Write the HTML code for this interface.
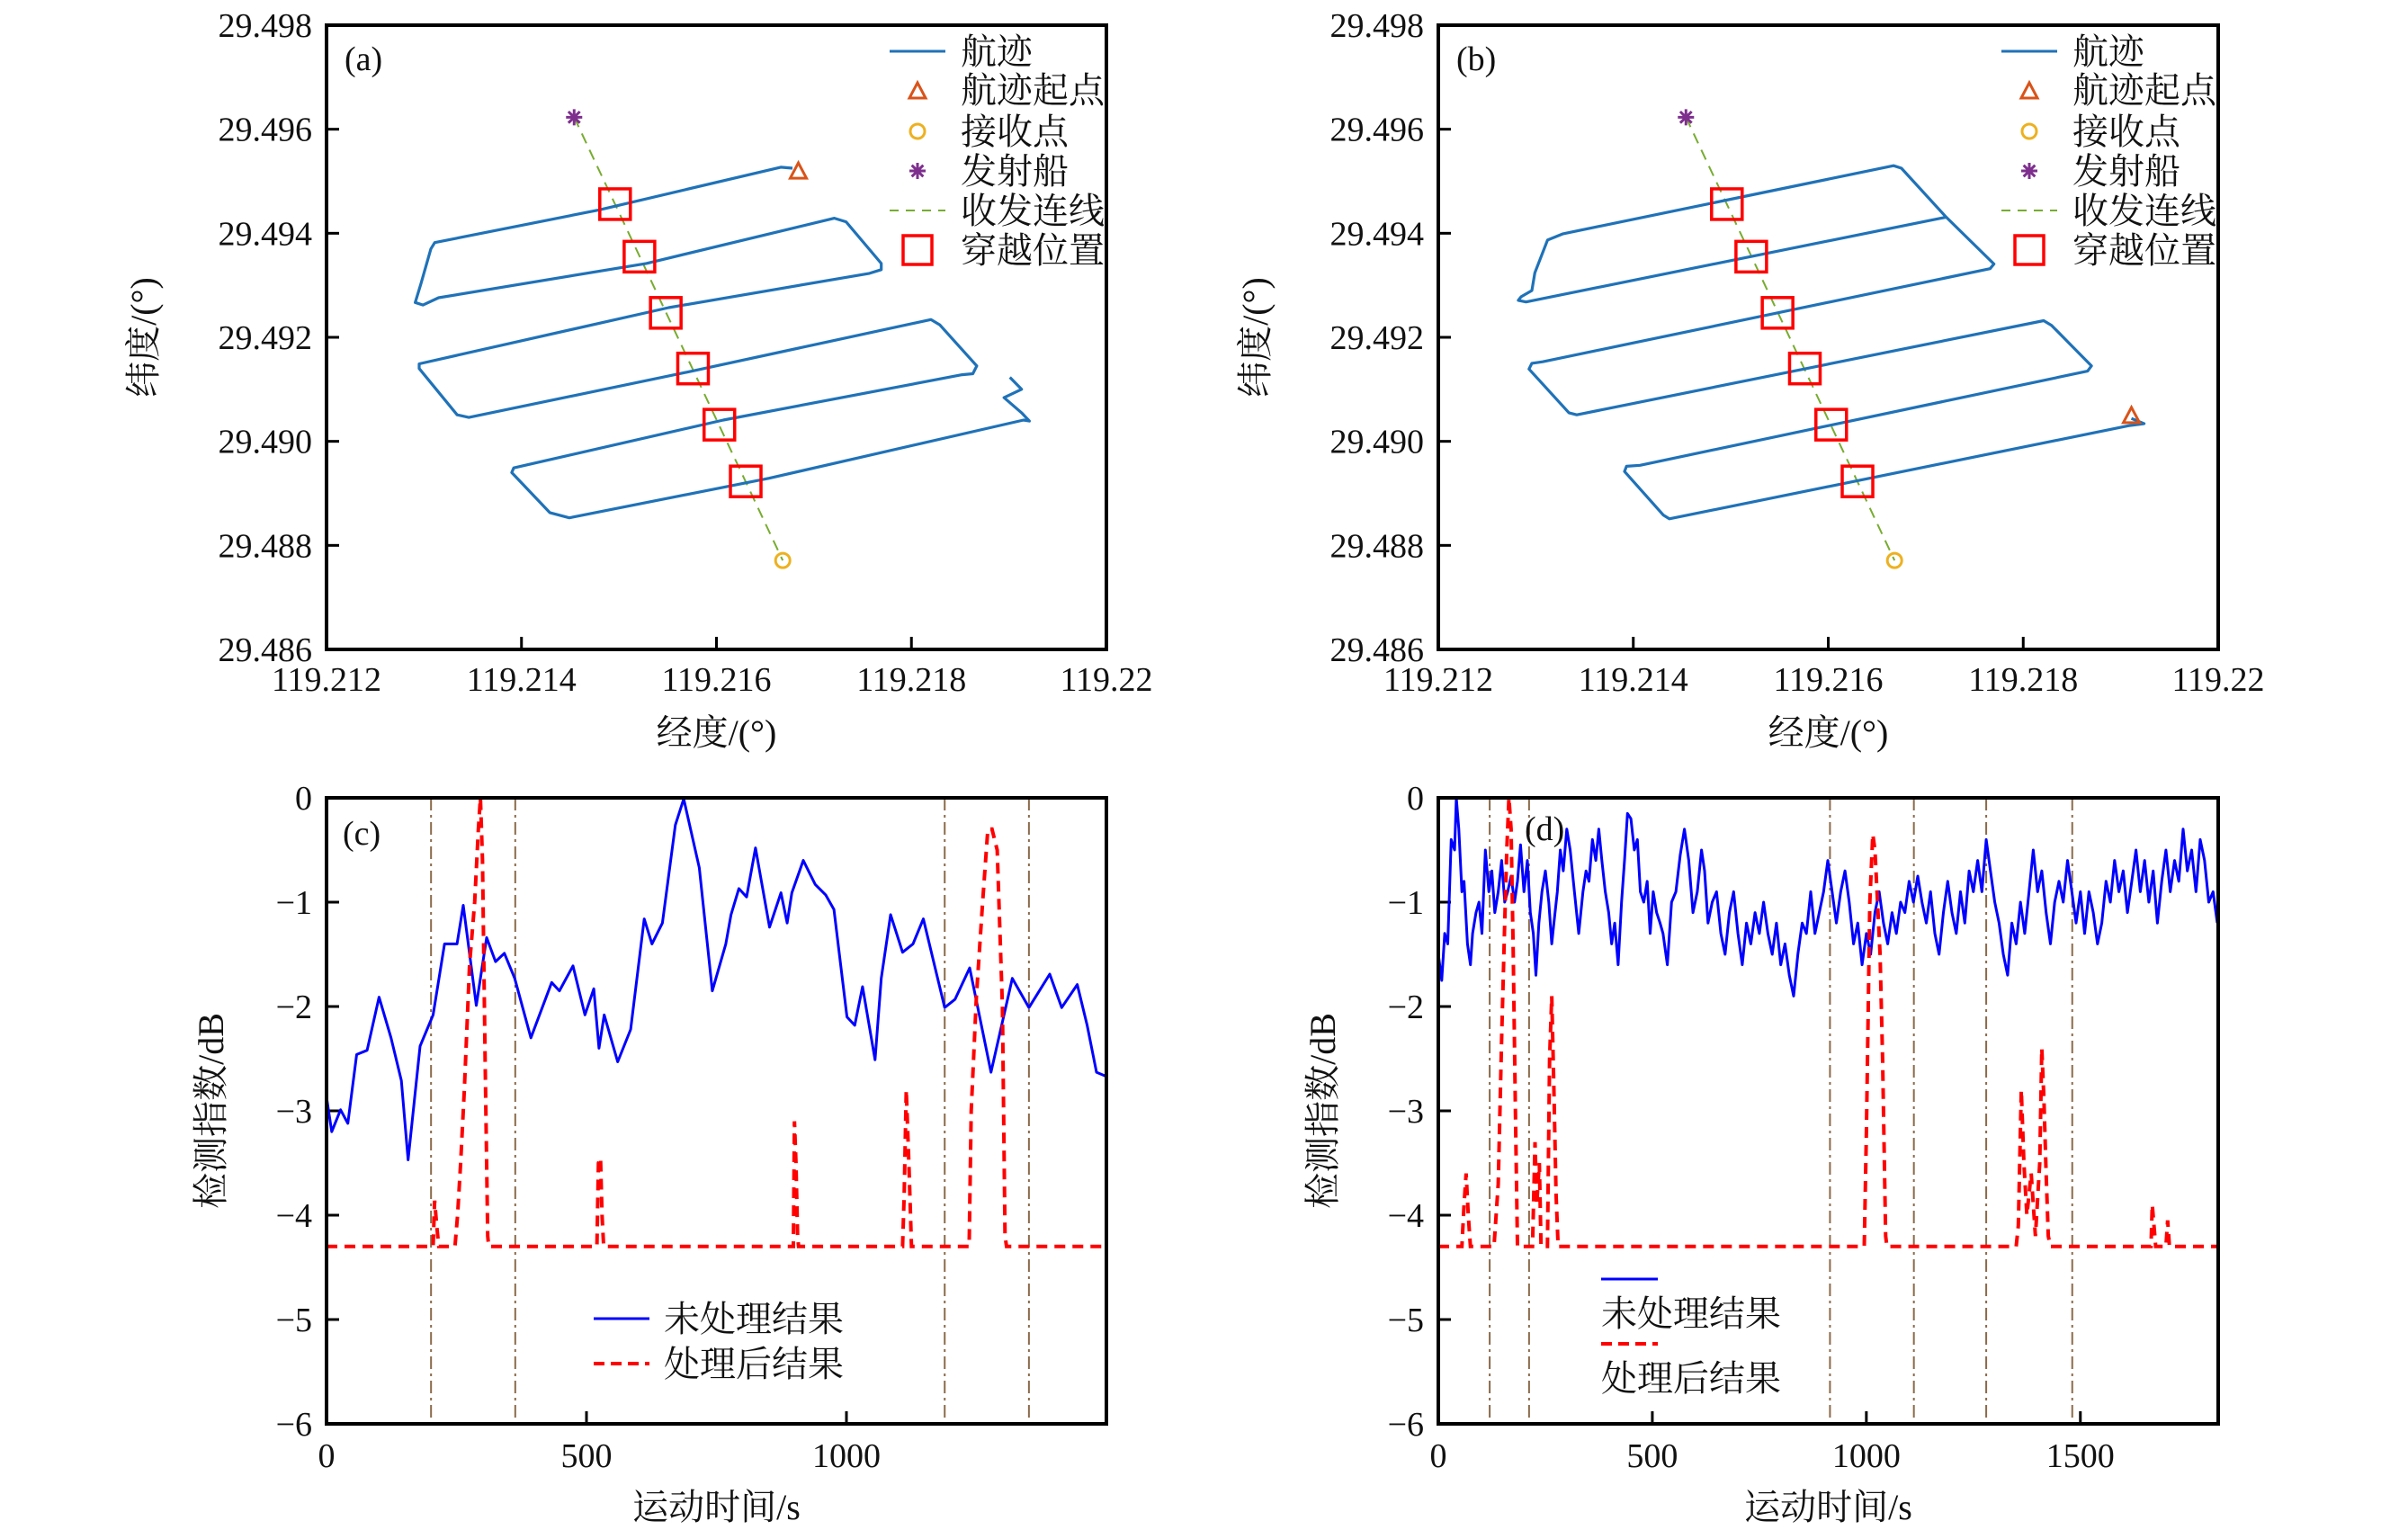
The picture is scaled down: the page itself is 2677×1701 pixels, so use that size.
<!DOCTYPE html>
<html><head><meta charset="utf-8">
<style>
html,body{margin:0;padding:0;background:#fff;}
svg{display:block;}
text{font-family:"Liberation Serif","Noto Serif CJK SC","Noto Sans CJK SC",serif;fill:#111;}
</style></head>
<body>
<svg id="fig" xmlns="http://www.w3.org/2000/svg" width="2677" height="1701" viewBox="0 0 2677 1701">
<rect width="2677" height="1701" fill="#fff"/>
</svg>
<script>
// ---------- data ----------
const lonTicks=[119.212,119.214,119.216,119.218,119.22];
const lonTickLabels=['119.212','119.214','119.216','119.218','119.22'];
const latTicks=[29.486,29.488,29.490,29.492,29.494,29.496,29.498];
const latTickLabels=['29.486','29.488','29.490','29.492','29.494','29.496','29.498'];
const timeTicksC=[0,500,1000];
const timeTicksD=[0,500,1000,1500];
const dbTicks=[0,-1,-2,-3,-4,-5,-6];
const dbTickLabels=['0','−1','−2','−3','−4','−5','−6'];

const trackALon=[119.21678,119.21666,119.21480,119.21311,119.21307,119.21297,119.21291,119.21299,119.21315,119.21528,119.21721,119.21733,119.21769,119.21769,119.21757,119.21551,119.21295,119.21295,119.21334,119.21346,119.21575,119.21820,119.21829,119.21867,119.21863,119.21852,119.21607,119.21392,119.21390,119.21429,119.21449,119.21654,119.21915,119.21921,119.21913,119.21895,119.21913,119.21901];
const trackALat=[29.49525,29.49527,29.49445,29.49382,29.49370,29.49304,29.49267,29.49262,29.49276,29.49342,29.49429,29.49422,29.49342,29.49330,29.49323,29.49257,29.49149,29.49140,29.49051,29.49046,29.49135,29.49234,29.49224,29.49145,29.49130,29.49128,29.49041,29.48949,29.48940,29.48863,29.48853,29.48929,29.49041,29.49039,29.49055,29.49084,29.49100,29.49123];
const trackBLon=[119.21911,119.21924,119.21908,119.21437,119.21431,119.21391,119.21393,119.21407,119.21866,119.21870,119.21829,119.21821,119.21342,119.21334,119.21293,119.21296,119.21307,119.21766,119.21770,119.21721,119.21290,119.21282,119.21285,119.21296,119.21299,119.21312,119.21328,119.21667,119.21675,119.21721];
const trackBLat=[29.49044,29.49034,29.49030,29.48851,29.48858,29.48942,29.48952,29.48954,29.49135,29.49145,29.49223,29.49232,29.49051,29.49055,29.49139,29.49150,29.49153,29.49332,29.49341,29.49431,29.49268,29.49271,29.49278,29.49290,29.49324,29.49387,29.49399,29.49530,29.49525,29.49431];
const crossLon=[119.21496,119.21521,119.21548,119.21576,119.21603,119.21630];
const crossLat=[29.49456,29.49355,29.49247,29.49140,29.49032,29.48923];
const shipLon=119.21454, shipLat=29.49623;
const rxLon=119.21668, rxLat=29.48771;
const startALon=119.21684, startALat=29.49518;
const startBLon=119.21911, startBLat=29.49048;

const rawCT=[0,10,27,41,58,78,101,124,144,157,180,205,227,251,263,288,308,325,342,362,393,433,448,474,497,514,524,534,560,585,611,626,646,671,687,717,742,768,778,793,808,825,852,874,886,895,917,940,960,976,1001,1016,1031,1055,1067,1085,1108,1128,1148,1189,1209,1237,1278,1319,1351,1391,1414,1444,1463,1481,1500];
const rawCV=[-2.87,-3.2,-2.99,-3.12,-2.46,-2.42,-1.91,-2.30,-2.71,-3.47,-2.38,-2.08,-1.40,-1.40,-1.03,-1.99,-1.34,-1.57,-1.49,-1.73,-2.30,-1.77,-1.85,-1.61,-2.08,-1.83,-2.40,-2.08,-2.53,-2.22,-1.16,-1.40,-1.20,-0.26,-0.01,-0.67,-1.85,-1.40,-1.12,-0.87,-0.95,-0.48,-1.24,-0.91,-1.20,-0.91,-0.60,-0.83,-0.93,-1.07,-2.10,-2.18,-1.81,-2.51,-1.73,-1.12,-1.48,-1.40,-1.16,-2.01,-1.93,-1.63,-2.63,-1.73,-2.01,-1.69,-2.01,-1.79,-2.18,-2.63,-2.67];
const procCT=[0,205,208,212,216,247,252,258,265,275,285,292,296,300,305,310,312,520,523,527,530,533,898,900,903,906,908,1108,1111,1115,1120,1125,1236,1240,1250,1262,1272,1280,1290,1300,1305,1308,1500];
const procCV=[-4.3,-4.3,-3.86,-4.1,-4.3,-4.3,-4.0,-3.5,-2.8,-1.6,-1.0,-0.3,0,-0.6,-2.5,-4.2,-4.3,-4.3,-3.5,-3.45,-4.0,-4.3,-4.3,-3.1,-3.5,-4.2,-4.3,-4.3,-3.8,-2.8,-3.5,-4.3,-4.3,-3.0,-1.9,-1.0,-0.3,-0.3,-0.5,-2.0,-4.2,-4.3,-4.3];
const crossTimesC=[201,363,1189,1351];

const rawDT=[0,8,15,22,30,38,42,48,55,60,68,75,80,88,95,102,110,118,125,132,140,148,155,162,170,178,185,192,200,208,215,222,228,235,242,250,258,265,270,278,285,292,300,308,318,328,338,345,352,360,368,375,382,390,398,405,412,420,428,435,442,450,458,465,472,480,488,495,502,510,518,525,535,545,555,565,575,585,595,605,615,622,630,640,650,660,670,680,690,700,710,720,730,740,750,760,770,780,790,800,810,820,830,840,850,860,870,880,890,900,910,920,930,940,950,960,970,980,990,1000,1010,1020,1030,1040,1050,1060,1070,1080,1090,1100,1110,1120,1130,1140,1150,1160,1170,1180,1190,1200,1210,1220,1230,1240,1250,1260,1270,1280,1290,1300,1310,1320,1330,1340,1350,1360,1370,1380,1390,1400,1410,1420,1430,1440,1450,1460,1470,1480,1490,1500,1510,1520,1530,1540,1550,1560,1570,1580,1590,1600,1610,1620,1630,1640,1650,1660,1670,1680,1690,1700,1710,1720,1730,1740,1750,1760,1770,1780,1790,1800,1810,1820];
const rawDV=[-1.5,-1.75,-1.3,-1.4,-0.4,-0.5,0,-0.3,-0.9,-0.8,-1.4,-1.6,-1.3,-1.1,-1.0,-1.3,-0.5,-0.9,-0.7,-1.1,-0.9,-0.6,-1.0,-0.9,-0.75,-1.0,-0.8,-0.45,-0.9,-0.6,-1.1,-1.3,-1.7,-1.2,-0.9,-0.7,-1.0,-1.4,-1.2,-0.9,-0.5,-0.7,-0.3,-0.5,-0.9,-1.3,-0.9,-0.7,-0.8,-0.4,-0.6,-0.3,-0.6,-0.9,-1.1,-1.4,-1.2,-1.6,-1.0,-0.6,-0.15,-0.2,-0.5,-0.4,-0.9,-1.0,-0.8,-1.3,-0.9,-1.1,-1.2,-1.3,-1.6,-1.0,-0.9,-0.55,-0.3,-0.6,-1.1,-0.9,-0.5,-0.7,-1.2,-1.0,-0.9,-1.3,-1.5,-1.1,-0.9,-1.3,-1.6,-1.2,-1.4,-1.1,-1.3,-1.0,-1.3,-1.5,-1.2,-1.6,-1.4,-1.7,-1.9,-1.5,-1.2,-1.3,-0.9,-1.3,-1.1,-0.9,-0.6,-0.9,-1.2,-0.9,-0.7,-1.0,-1.4,-1.2,-1.6,-1.3,-1.5,-1.1,-0.9,-1.2,-1.4,-1.1,-1.3,-1.0,-1.1,-0.8,-1.0,-0.75,-1.0,-1.2,-0.9,-1.3,-1.5,-1.1,-0.8,-1.1,-1.3,-0.9,-1.2,-0.7,-0.9,-0.6,-0.9,-0.4,-0.7,-1.0,-1.2,-1.5,-1.7,-1.2,-1.4,-1.0,-1.3,-0.9,-0.5,-0.9,-0.7,-1.1,-1.4,-1.0,-0.8,-1.0,-0.6,-0.9,-1.2,-0.9,-1.3,-0.9,-1.1,-1.4,-1.2,-0.8,-1.0,-0.6,-0.9,-0.7,-1.1,-0.8,-0.5,-0.9,-0.6,-1.0,-0.7,-1.2,-0.8,-0.5,-0.9,-0.6,-0.8,-0.3,-0.7,-0.5,-0.9,-0.4,-0.6,-1.0,-0.9,-1.2];
const procDT=[0,55,60,65,70,75,130,140,148,155,160,165,170,175,180,185,220,226,230,236,240,255,260,265,270,275,280,995,1000,1008,1015,1020,1025,1032,1038,1045,1048,1350,1355,1362,1368,1375,1385,1395,1405,1410,1415,1420,1425,1430,1665,1668,1672,1676,1700,1704,1708,1822];
const procDV=[-4.3,-4.3,-3.9,-3.6,-4.0,-4.3,-4.3,-3.7,-2.3,-1.2,-0.5,0,-0.3,-1.5,-3.0,-4.3,-4.3,-3.3,-3.9,-3.5,-4.3,-4.3,-2.5,-1.9,-2.8,-3.8,-4.3,-4.3,-3.2,-1.0,-0.35,-0.5,-0.9,-1.5,-2.5,-4.2,-4.3,-4.3,-4.1,-2.8,-3.5,-4.0,-3.6,-4.2,-3.5,-2.4,-2.9,-3.6,-4.2,-4.3,-4.3,-3.9,-4.1,-4.3,-4.3,-4.05,-4.3,-4.3];
const crossTimesD=[120,212,915,1111,1280,1481];

// ---------- drawing ----------
const NS='http://www.w3.org/2000/svg';
const svg=document.getElementById('fig');
function el(tag,parent){const e=document.createElementNS(NS,tag);(parent||svg).appendChild(e);return e;}
function set(e,o){for(const k in o)e.setAttribute(k,o[k]);return e;}

const PA={x0:363,x1:1230,y0:28,y1:722};
const PB={x0:1599,x1:2466,y0:28,y1:722};
const PC={x0:363,x1:1230,y0:887,y1:1583,tmax:1500};
const PD={x0:1599,x1:2466,y0:887,y1:1583,tmax:1822};

function sx(p,lon){return p.x0+(lon-119.212)/0.008*(p.x1-p.x0);}
function sy(p,lat){return p.y1-(lat-29.486)/0.012*(p.y1-p.y0);}
function tx(p,t){return p.x0+t/p.tmax*(p.x1-p.x0);}
function vy(p,v){return p.y0+(-v)/6*(p.y1-p.y0);}

function label(str,x,y,size,anchor,name,g){
  const t=el('text',g);set(t,{x:x,y:y,'font-size':size,'text-anchor':anchor||'start'});t.textContent=str;
  
  
  return t;
}
function frame(p,name){
  const r=el('rect');set(r,{x:p.x0,y:p.y0,width:p.x1-p.x0,height:p.y1-p.y0,fill:'none',stroke:'#000','stroke-width':4});
  
  
}
function tickX(p,x,g){const l=el('line',g);set(l,{x1:x,x2:x,y1:p.y1,y2:p.y1-14,stroke:'#000','stroke-width':3});
  
  }
function tickY(p,y,g){const l=el('line',g);set(l,{x1:p.x0,x2:p.x0+14,y1:y,y2:y,stroke:'#000','stroke-width':3});
  
  }
function poly(xs,ys,attrs,name){
  const pts=xs.map((x,i)=>x.toFixed(1)+','+ys[i].toFixed(1)).join(' ');
  const pl=el('polyline');set(pl,Object.assign({points:pts,fill:'none'},attrs));
  
  
  return pl;
}
function star(cx,cy,g){
  const s=el('path',g);const r=9;let d='';
  for(let k=0;k<4;k++){const a=k*Math.PI/4;d+=`M${cx-r*Math.cos(a)},${cy-r*Math.sin(a)}L${cx+r*Math.cos(a)},${cy+r*Math.sin(a)}`;}
  set(s,{d:d,stroke:'#7E2F8E','stroke-width':3});
  
  
}
function tri(cx,cy,g){
  const t=el('polygon',g);set(t,{points:`${cx},${cy-10} ${cx-9},${cy+7} ${cx+9},${cy+7}`,fill:'none',stroke:'#D95319','stroke-width':3});
  
  
}
function circ(cx,cy,g){
  const c=el('circle',g);set(c,{cx:cx,cy:cy,r:8,fill:'none',stroke:'#EDB120','stroke-width':3});
  
  
}
function sq(cx,cy,g){
  const r=el('rect',g);set(r,{x:cx-17,y:cy-17,width:34,height:34,fill:'none',stroke:'#FF0000','stroke-width':3.5});
  
  
}

function mapPanel(p,tag,lonArr,latArr,sLon,sLat){
  lonTicks.forEach((v,i)=>{const x=sx(p,v);if(i>0&&i<lonTicks.length-1)tickX(p,x);
    label(lonTickLabels[i],x,p.y1+46,38,'middle','x-tick-label');});
  latTicks.forEach((v,i)=>{const y=sy(p,v);if(i>0&&i<latTicks.length-1)tickY(p,y);
    label(latTickLabels[i],p.x0-16,y+13,38,'end','y-tick-label');});
  const ln=el('line');set(ln,{x1:sx(p,shipLon),y1:sy(p,shipLat),x2:sx(p,rxLon),y2:sy(p,rxLat),stroke:'#77AC30','stroke-width':2,'stroke-dasharray':'12,8'});
  
  
  poly(lonArr.map(v=>sx(p,v)),latArr.map(v=>sy(p,v)),{stroke:'#1f72b8','stroke-width':3.2,'stroke-linejoin':'round'},'ship-track');
  crossLon.forEach((v,i)=>sq(sx(p,v),sy(p,crossLat[i])));
  star(sx(p,shipLon),sy(p,shipLat));
  tri(sx(p,sLon),sy(p,sLat));
  circ(sx(p,rxLon),sy(p,rxLat));
  frame(p,'plot-frame-'+tag);
  label('('+tag+')',p.x0+20,p.y0+50,38,'start','panel-label-'+tag);
  label('经度/(°)',(p.x0+p.x1)/2,p.y1+106,40,'middle','x-axis-title');
  const yt=label('纬度/(°)',0,0,40,'middle','y-axis-title');
  yt.setAttribute('transform',`translate(${p.x0-190},${(p.y0+p.y1)/2}) rotate(-90)`);
  const lg=el('g');
  
  
  const lx=p.x1-241, mx=p.x1-210, txx=p.x1-162;
  const ys=[57,100,146,190,234,278];
  const names=['航迹','航迹起点','接收点','发射船','收发连线','穿越位置'];
  let l1=el('line',lg);set(l1,{x1:lx,x2:lx+62,y1:ys[0],y2:ys[0],stroke:'#1f72b8','stroke-width':3});
  tri(mx,ys[1]+2,lg);circ(mx,ys[2],lg);star(mx,ys[3],lg);
  let l2=el('line',lg);set(l2,{x1:lx,x2:lx+62,y1:ys[4],y2:ys[4],stroke:'#77AC30','stroke-width':2,'stroke-dasharray':'10,8'});
  const big=el('rect',lg);set(big,{x:mx-16,y:ys[5]-16,width:32,height:32,fill:'none',stroke:'#FF0000','stroke-width':3.5});
  names.forEach((n,i)=>label(n,txx,ys[i]+14,40,'start','legend-entry',lg));
}

function timePanel(p,tag,ticks,rT,rV,pT,pV,cross){
  ticks.forEach(v=>{const x=tx(p,v);if(v>0)tickX(p,x);label(String(v),x,p.y1+48,38,'middle','x-tick-label');});
  dbTicks.forEach((v,i)=>{const y=vy(p,v);if(i>0&&i<dbTicks.length-1)tickY(p,y);label(dbTickLabels[i],p.x0-16,y+13,38,'end','y-tick-label');});
  cross.forEach(t=>{const l=el('line');set(l,{x1:tx(p,t),x2:tx(p,t),y1:p.y0,y2:p.y1,stroke:'#8B6A4A','stroke-width':2,'stroke-dasharray':'14,5,3,5'});
    
    });
  poly(rT.map(t=>tx(p,t)),rV.map(v=>vy(p,v)),{stroke:'#0000FF','stroke-width':3,'stroke-linejoin':'round'},'raw-result-line');
  poly(pT.map(t=>tx(p,t)),pV.map(v=>vy(p,v)),{stroke:'#FF0000','stroke-width':4,'stroke-dasharray':'12,8'},'processed-result-line');
  frame(p,'plot-frame-'+tag);
  label('运动时间/s',(p.x0+p.x1)/2,p.y1+106,40,'middle','x-axis-title');
  const yt=label('检测指数/dB',0,0,40,'middle','y-axis-title');
  yt.setAttribute('transform',`translate(${p.x0-115},${(p.y0+p.y1)/2}) rotate(-90)`);
}

mapPanel(PA,'a',trackALon,trackALat,startALon,startALat);
mapPanel(PB,'b',trackBLon,trackBLat,startBLon,startBLat);
timePanel(PC,'c',timeTicksC,rawCT,rawCV,procCT,procCV,crossTimesC);
timePanel(PD,'d',timeTicksD,rawDT,rawDV,procDT,procDV,crossTimesD);

label('(c)',PC.x0+18,PC.y0+52,38,'start','panel-label-c');
label('(d)',PD.x0+96,PD.y0+47,38,'start','panel-label-d');

const lgc=el('g');


let a1=el('line',lgc);set(a1,{x1:660,x2:722,y1:1466,y2:1466,stroke:'#0000FF','stroke-width':3});
let a2=el('line',lgc);set(a2,{x1:660,x2:722,y1:1516,y2:1516,stroke:'#FF0000','stroke-width':4,'stroke-dasharray':'12,7'});
label('未处理结果',738,1480,40,'start','legend-entry',lgc);
label('处理后结果',738,1530,40,'start','legend-entry',lgc);
const lgd=el('g');


let b1=el('line',lgd);set(b1,{x1:1780,x2:1843,y1:1422,y2:1422,stroke:'#0000FF','stroke-width':3});
let b2=el('line',lgd);set(b2,{x1:1780,x2:1843,y1:1494,y2:1494,stroke:'#FF0000','stroke-width':4,'stroke-dasharray':'12,7'});
label('未处理结果',1780,1474,40,'start','legend-entry',lgd);
label('处理后结果',1780,1546,40,'start','legend-entry',lgd);
</script>
</body></html>
